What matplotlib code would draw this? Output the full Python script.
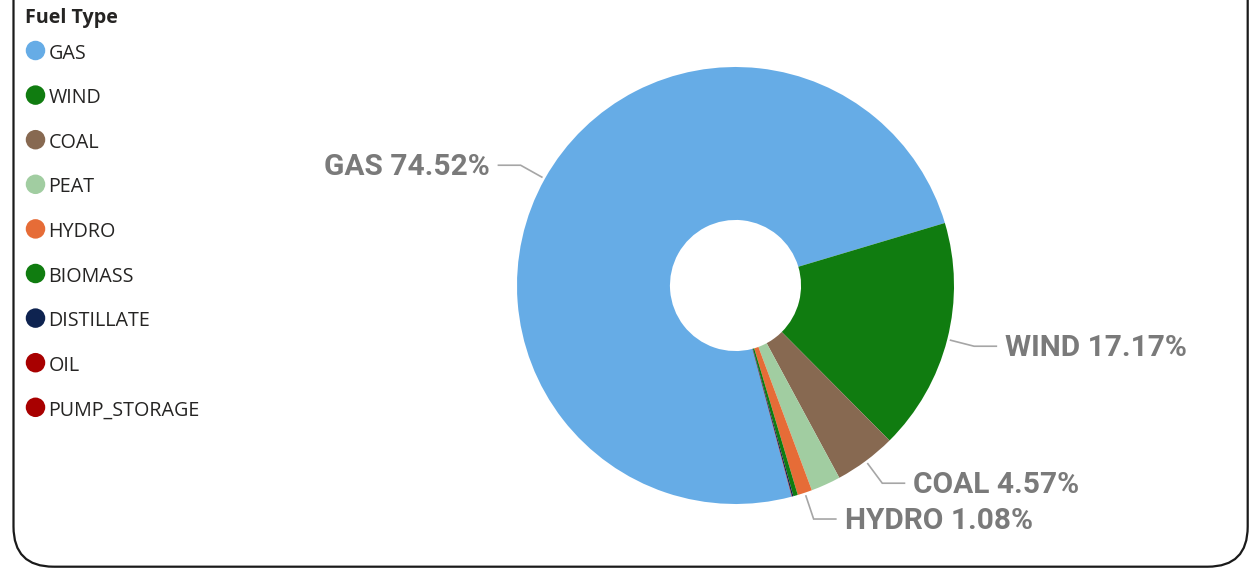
import numpy as np
import matplotlib
matplotlib.use("Agg")
import matplotlib.pyplot as plt
from matplotlib.patches import FancyBboxPatch

# ---- data ----
fuel_types = ['GAS', 'WIND', 'COAL', 'PEAT', 'HYDRO', 'BIOMASS', 'DISTILLATE', 'OIL', 'PUMP_STORAGE']
shares = [74.52, 17.17, 4.57, 2.20, 1.08, 0.33, 0.10, 0.02, 0.01]
colors = ['#66ACE6', '#107C10', '#876951', '#A1CDA1', '#E66C37', '#107C10', '#0E2350', '#A80000', '#A80000']
labeled = ['GAS', 'WIND', 'COAL', 'HYDRO']
legend_title = 'Fuel Type'

W, H = 1251, 568
fig = plt.figure(figsize=(W / 100, H / 100), dpi=100)
ax = fig.add_axes([0, 0, 1, 1])


def Y(img_y):
    return H - img_y


# ---- donut ----
R = 218.5
cx, cy = 735.5, Y(285.5)
wedges, _ = ax.pie(shares, colors=colors, startangle=284.9, counterclock=False,
                   radius=R, center=(cx, cy),
                   wedgeprops=dict(width=R * 0.70, linewidth=0))
ax.set_xlim(0, W)
ax.set_ylim(0, H)
ax.set_aspect('equal')
ax.axis('off')

# ---- data labels with leader lines ----
lab_size = 21.5
label_font = dict(family='Roboto', weight='bold', size=lab_size, color='#7a7a7a')
cap_px = 0.711 * lab_size * 100 / 72
for name, val, w in zip(fuel_types, shares, wedges):
    if name not in labeled:
        continue
    mid = np.deg2rad((w.theta1 + w.theta2) / 2)
    c, s = np.cos(mid), np.sin(mid)
    p1 = (cx + R * 1.012 * c, cy + R * 1.012 * s)
    p2 = (cx + R * 1.127 * c, cy + R * 1.127 * s)
    side = 1 if c >= 0 else -1
    p3 = (p2[0] + side * 23, p2[1])
    ax.plot([p1[0], p2[0], p3[0]], [p1[1], p2[1], p3[1]], color='#a6a6a6', lw=1.2,
            solid_capstyle='butt', solid_joinstyle='miter')
    ax.text(p3[0] + side * 8, p3[1] + 1 - cap_px / 2, f'{name} {val:.2f}%',
            ha='left' if side > 0 else 'right', va='baseline', **label_font)

# ---- legend ----
leg_size = 14.2
ax.text(25, Y(16) - 0.714 * 20 / 2, legend_title, family='Open Sans', weight='bold',
        size=14.2, color='#252423', ha='left', va='baseline')
for i, (name, col) in enumerate(zip(fuel_types, colors)):
    yy = Y(50.5 + 44.6 * i)
    ax.scatter([35.5], [yy], s=(19.5 * 0.72) ** 2, color=col, edgecolors='none')
    ax.text(48.5, yy - 1 - 0.714 * (leg_size * 100 / 72) / 2, name, family='Open Sans',
            size=leg_size, color='#252423', ha='left', va='baseline')

# ---- visual frame (rounded) ----
frame = FancyBboxPatch((13.5, Y(566.7)), 1247.7 - 13.5, 566.7 + 60,
                       boxstyle='round,pad=0,rounding_size=40',
                       fill=False, edgecolor='#1a1a1a', lw=1.6, clip_on=False)
ax.add_patch(frame)

fig.savefig('out.png', dpi=100)
